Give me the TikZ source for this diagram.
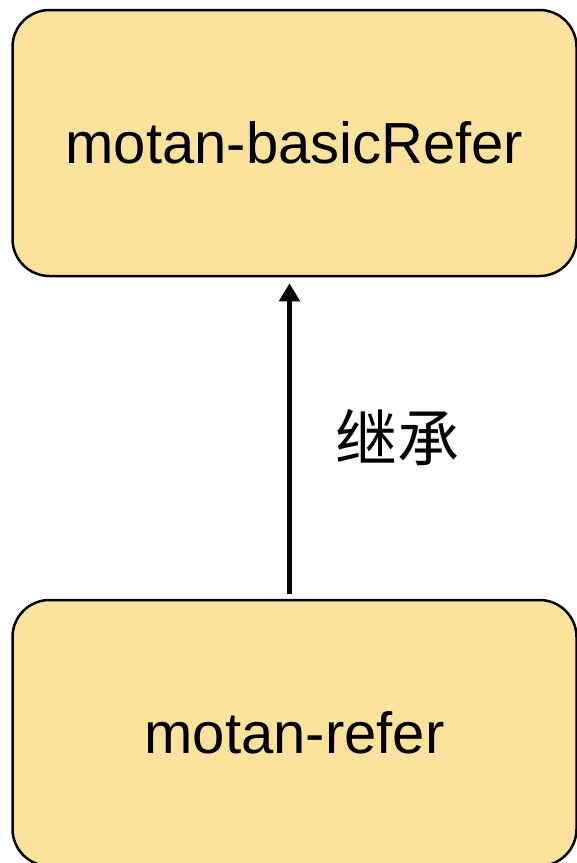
\documentclass[tikz,border=0pt]{standalone}
\usepackage{fontspec}
\setmainfont{Liberation Sans}
\newfontfamily\cjk{Noto Sans CJK SC}
\usepackage{xcolor}
\usetikzlibrary{arrows.meta}
\definecolor{boxfill}{HTML}{FBE29D}

\begin{document}
\begin{tikzpicture}[x=1pt,y=-1pt,line width=2.5pt,
  module/.style={draw,fill=boxfill,rounded corners=37pt,minimum width=564pt,minimum height=266pt,inner sep=0pt,font=\fontsize{58}{70}\selectfont}]
\useasboundingbox (0,0) rectangle (577,863);
  \node[module] at (294.5,143) (basic) {motan-basicRefer};
  \node[module] at ([yshift=-590pt]basic) (refer) {motan-refer};
  \draw [-{Triangle[length=18pt,width=20pt]},line width=4.5pt,shorten >=6pt,shorten <=5pt] (refer.north -| 289.5,0) -- (basic.south -| 289.5,0)
    node[midway,right=44pt,inner sep=0pt,font=\cjk\fontsize{62}{70}\selectfont] (rel) {继承};
\end{tikzpicture}
\end{document}
